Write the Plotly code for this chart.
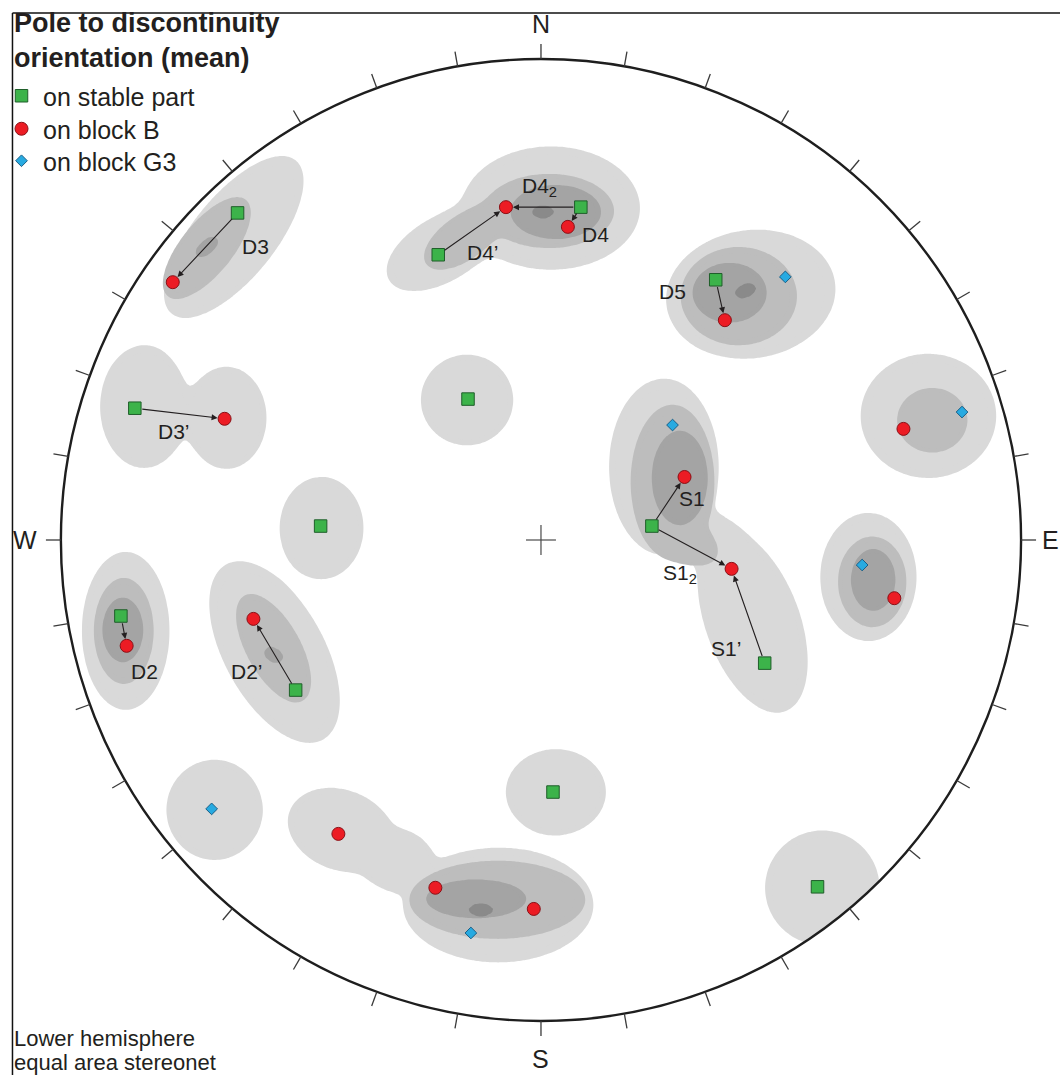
import numpy as np
import plotly.graph_objects as go

# Mean poles to discontinuities, lower-hemisphere equal-area projection
# (x = east, y = north, primitive circle radius = 1)
stable_x = [-0.632, -0.214, 0.083, 0.364, -0.152, -0.846, -0.459, 0.231, -0.875, -0.511, 0.466, 0.025, 0.576]
stable_y = [0.680, 0.593, 0.692, 0.541, 0.293, 0.274, 0.029, 0.029, -0.158, -0.312, -0.256, -0.524, -0.721]

blockB_x = [-0.767, -0.073, 0.056, 0.383, -0.659, 0.755, 0.299, 0.397, 0.736, -0.863, -0.599, -0.422, -0.220, -0.015]
blockB_y = [0.536, 0.692, 0.651, 0.457, 0.252, 0.231, 0.131, -0.060, -0.121, -0.220, -0.164, -0.611, -0.723, -0.767]

blockG3_x = [0.509, 0.877, 0.274, 0.669, -0.686, -0.146]
blockG3_y = [0.547, 0.266, 0.239, -0.052, -0.559, -0.817]

# Displacement of a set: stable-part pole -> block B pole
shift_names = ["D3", "D4’", "D4<sub>2</sub>", "D4", "D5", "D3’", "S1", "S1<sub>2</sub>", "S1’", "D2", "D2’"]
shift_from = [0, 1, 2, 2, 3, 5, 7, 7, 10, 8, 9]
shift_to = [0, 1, 1, 2, 3, 4, 6, 7, 7, 9, 10]
label_x = [-0.595, -0.121, -0.004, 0.114, 0.274, -0.765, 0.314, 0.289, 0.385, -0.825, -0.613]
label_y = [0.611, 0.597, 0.734, 0.636, 0.516, 0.225, 0.087, -0.071, -0.225, -0.274, -0.274]

# Pole density zones, one list per contour level: (cx, cy, rx, ry, angle_deg)
zones_1 = [
    (-0.640, 0.630, 0.205, 0.086, 51),
    (-0.827, 0.277, 0.091, 0.127, 0),
    (-0.655, 0.254, 0.083, 0.106, 0),
    (0.021, 0.690, 0.185, 0.128, 0),
    (-0.208, 0.603, 0.125, 0.067, 30),
    (0.437, 0.511, 0.177, 0.133, 8),
    (-0.154, 0.291, 0.096, 0.094, 0),
    (0.807, 0.258, 0.141, 0.129, 0),
    (0.256, 0.152, 0.114, 0.183, 0),
    (0.364, -0.010, 0.073, 0.052, -40),
    (0.441, -0.170, 0.198, 0.098, -70),
    (-0.457, 0.025, 0.087, 0.106, 0),
    (-0.865, -0.189, 0.091, 0.164, 0),
    (0.682, -0.077, 0.100, 0.133, 0),
    (-0.555, -0.233, 0.208, 0.104, -61),
    (0.031, -0.524, 0.104, 0.089, 0),
    (-0.680, -0.561, 0.100, 0.104, 0),
    (-0.416, -0.603, 0.114, 0.083, -20),
    (-0.301, -0.665, 0.073, 0.062, 0),
    (-0.089, -0.759, 0.198, 0.119, 0),
    (0.586, -0.723, 0.119, 0.119, 0),
]
zones_2 = [
    (-0.696, 0.607, 0.129, 0.054, 51),
    (0.017, 0.684, 0.135, 0.077, 0),
    (-0.162, 0.628, 0.094, 0.046, 35),
    (0.412, 0.507, 0.121, 0.102, 0),
    (0.815, 0.249, 0.073, 0.067, 0),
    (0.274, 0.121, 0.087, 0.160, 0),
    (0.301, 0.000, 0.073, 0.042, -30),
    (-0.869, -0.189, 0.062, 0.110, 0),
    (0.690, -0.087, 0.071, 0.094, 0),
    (-0.557, -0.225, 0.125, 0.056, -61),
    (-0.091, -0.748, 0.183, 0.081, 0),
]
zones_3 = [
    (-0.696, 0.609, 0.027, 0.014, 40),
    (0.031, 0.682, 0.094, 0.056, 0),
    (0.393, 0.514, 0.077, 0.062, 0),
    (0.289, 0.129, 0.058, 0.098, 0),
    (-0.871, -0.187, 0.042, 0.067, 0),
    (0.692, -0.083, 0.046, 0.064, 0),
    (-0.557, -0.239, 0.020, 0.014, -30),
    (-0.135, -0.746, 0.104, 0.040, 0),
]
zones_4 = [
    (0.004, 0.682, 0.022, 0.012, 0),
    (0.426, 0.518, 0.022, 0.013, 20),
    (-0.125, -0.769, 0.025, 0.012, 0),
]
zone_colors = ["#d9d9d9", "#bdbdbd", "#a4a4a4", "#8a8a8a"]

FONT = "Liberation Sans, Arial, sans-serif"
INK = "#231f20"

# ---------------------------------------------------------------- density field
grid = np.linspace(-1.07, 1.07, 361)
GX, GY = np.meshgrid(grid, grid)


def zone_field(zones, sharp=3.0):
    """Smooth union of elliptical zones; the value is 1 on a lone zone's rim."""
    f = np.zeros_like(GX)
    for cx, cy, rx, ry, ang in zones:
        t = np.deg2rad(ang)
        dx, dy = GX - cx, GY - cy
        u = dx * np.cos(t) + dy * np.sin(t)
        v = -dx * np.sin(t) + dy * np.cos(t)
        q2 = (u / rx) ** 2 + (v / ry) ** 2
        f += np.exp(-sharp * (q2 - 1.0))
    return np.round(np.minimum(f, 9.0), 3)


fig = go.Figure()

for zones, colour in zip([zones_1, zones_2, zones_3, zones_4], zone_colors):
    fig.add_trace(go.Contour(
        x=grid, y=grid, z=zone_field(zones),
        autocontour=False,
        contours=dict(start=1, end=2, size=1, coloring="fill", showlines=False),
        colorscale=[[0, "rgba(255,255,255,0)"], [0.5, colour], [1, colour]],
        line=dict(width=0),
        showscale=False, hoverinfo="skip", showlegend=False,
    ))

# ---------------------------------------------------------------- poles
fig.add_trace(go.Scatter(
    x=stable_x, y=stable_y, mode="markers", name="on stable part", legend="legend",
    marker=dict(symbol="square", size=12.5, color="#3cb34a",
                line=dict(color="#1f5e2a", width=1)),
    hoverinfo="skip",
))
fig.add_trace(go.Scatter(
    x=blockB_x, y=blockB_y, mode="markers", name="on block B", legend="legend2",
    marker=dict(symbol="circle", size=13, color="#ec1c24",
                line=dict(color="#8a1016", width=1)),
    hoverinfo="skip",
))
fig.add_trace(go.Scatter(
    x=blockG3_x, y=blockG3_y, mode="markers", name="on block G3", legend="legend3",
    marker=dict(symbol="diamond", size=9, color="#27aae1",
                line=dict(color="#1a5f86", width=1)),
    hoverinfo="skip",
))

annotations = []

# displacement arrows and set labels
for name, i, j, lx, ly in zip(shift_names, shift_from, shift_to, label_x, label_y):
    annotations.append(dict(
        x=blockB_x[j], y=blockB_y[j], ax=stable_x[i], ay=stable_y[i],
        xref="x", yref="y", axref="x", ayref="y", text="",
        showarrow=True, arrowhead=2, arrowsize=1.1, arrowwidth=1.1,
        arrowcolor=INK, standoff=7, startstandoff=6,
    ))
    annotations.append(dict(
        x=lx, y=ly, xref="x", yref="y", text=name, showarrow=False,
        xanchor="center", yanchor="middle",
        font=dict(family=FONT, size=21, color=INK),
    ))

# compass letters
for txt, x, y in [("N", 0.0, 1.073), ("S", 0.0, -1.079), ("W", -1.075, 0.0), ("E", 1.062, 0.0)]:
    annotations.append(dict(
        x=x, y=y, xref="x", yref="y", text=txt, showarrow=False,
        xanchor="center", yanchor="middle",
        font=dict(family=FONT, size=25, color=INK),
    ))

# title of the key and projection note
annotations.append(dict(
    x=10 / 1060, y=1 - 6 / 1075, xref="paper", yref="paper",
    xanchor="left", yanchor="top", align="left", showarrow=False,
    text="<b>Pole to discontinuity<br>orientation (mean)</b>",
    font=dict(family=FONT, size=27, color=INK),
))
annotations.append(dict(
    x=10 / 1060, y=1 - 1038 / 1075, xref="paper", yref="paper",
    xanchor="left", yanchor="middle", showarrow=False,
    text="Lower hemisphere", font=dict(family=FONT, size=22, color=INK),
))
annotations.append(dict(
    x=10 / 1060, y=1 - 1062 / 1075, xref="paper", yref="paper",
    xanchor="left", yanchor="middle", showarrow=False,
    text="equal area stereonet", font=dict(family=FONT, size=22, color=INK),
))

# ---------------------------------------------------------------- net frame
shapes = []
ring = np.linspace(2 * np.pi, 0, 721)
mask_path = "M-3,-3L3,-3L3,3L-3,3Z M" + "L".join(
    f"{np.cos(t):.5f},{np.sin(t):.5f}" for t in ring) + "Z"
shapes.append(dict(type="path", path=mask_path, xref="x", yref="y",
                   fillcolor="white", line=dict(width=0), layer="above",
                   fillrule="evenodd"))
shapes.append(dict(type="circle", x0=-1, y0=-1, x1=1, y1=1, xref="x", yref="y",
                   line=dict(color="#1e1e1e", width=2.4), layer="above"))

tick_len = 15 / 481
for az in range(0, 360, 10):
    a = np.deg2rad(az)
    sx, sy = np.sin(a), np.cos(a)
    shapes.append(dict(type="line", xref="x", yref="y",
                       x0=sx, y0=sy, x1=sx * (1 + tick_len), y1=sy * (1 + tick_len),
                       line=dict(color="#3a3a3a", width=1.3), layer="above"))

cross = 15 / 481
shapes.append(dict(type="line", xref="x", yref="y", x0=-cross, y0=0, x1=cross, y1=0,
                   line=dict(color="#4a4a4a", width=1.2), layer="above"))
shapes.append(dict(type="line", xref="x", yref="y", x0=0, y0=-cross, x1=0, y1=cross,
                   line=dict(color="#4a4a4a", width=1.2), layer="above"))

# outer border of the panel
fx, fy = 10.5 / 1060, 1 - 13 / 1075
shapes.append(dict(type="line", xref="paper", yref="paper", x0=fx, y0=-0.01, x1=fx, y1=fy,
                   line=dict(color="#111111", width=1.5), layer="above"))
shapes.append(dict(type="line", xref="paper", yref="paper", x0=fx, y0=fy, x1=1.01, y1=fy,
                   line=dict(color="#111111", width=1.5), layer="above"))

key_style = dict(x=-0.002, xanchor="left", yanchor="top", itemwidth=33,
                 font=dict(family=FONT, size=25, color=INK),
                 bgcolor="rgba(0,0,0,0)", borderwidth=0)

fig.update_layout(
    width=1060, height=1075,
    margin=dict(l=0, r=0, t=0, b=0),
    paper_bgcolor="white", plot_bgcolor="white",
    xaxis=dict(range=[-540 / 481, 520 / 481], visible=False, fixedrange=True),
    yaxis=dict(range=[-535 / 481, 540 / 481], visible=False, fixedrange=True),
    showlegend=True,
    legend=dict(y=1 - 73 / 1075, **key_style),
    legend2=dict(y=1 - 106 / 1075, **key_style),
    legend3=dict(y=1 - 138 / 1075, **key_style),
    annotations=annotations,
    shapes=shapes,
)

fig.write_html("out.html")
